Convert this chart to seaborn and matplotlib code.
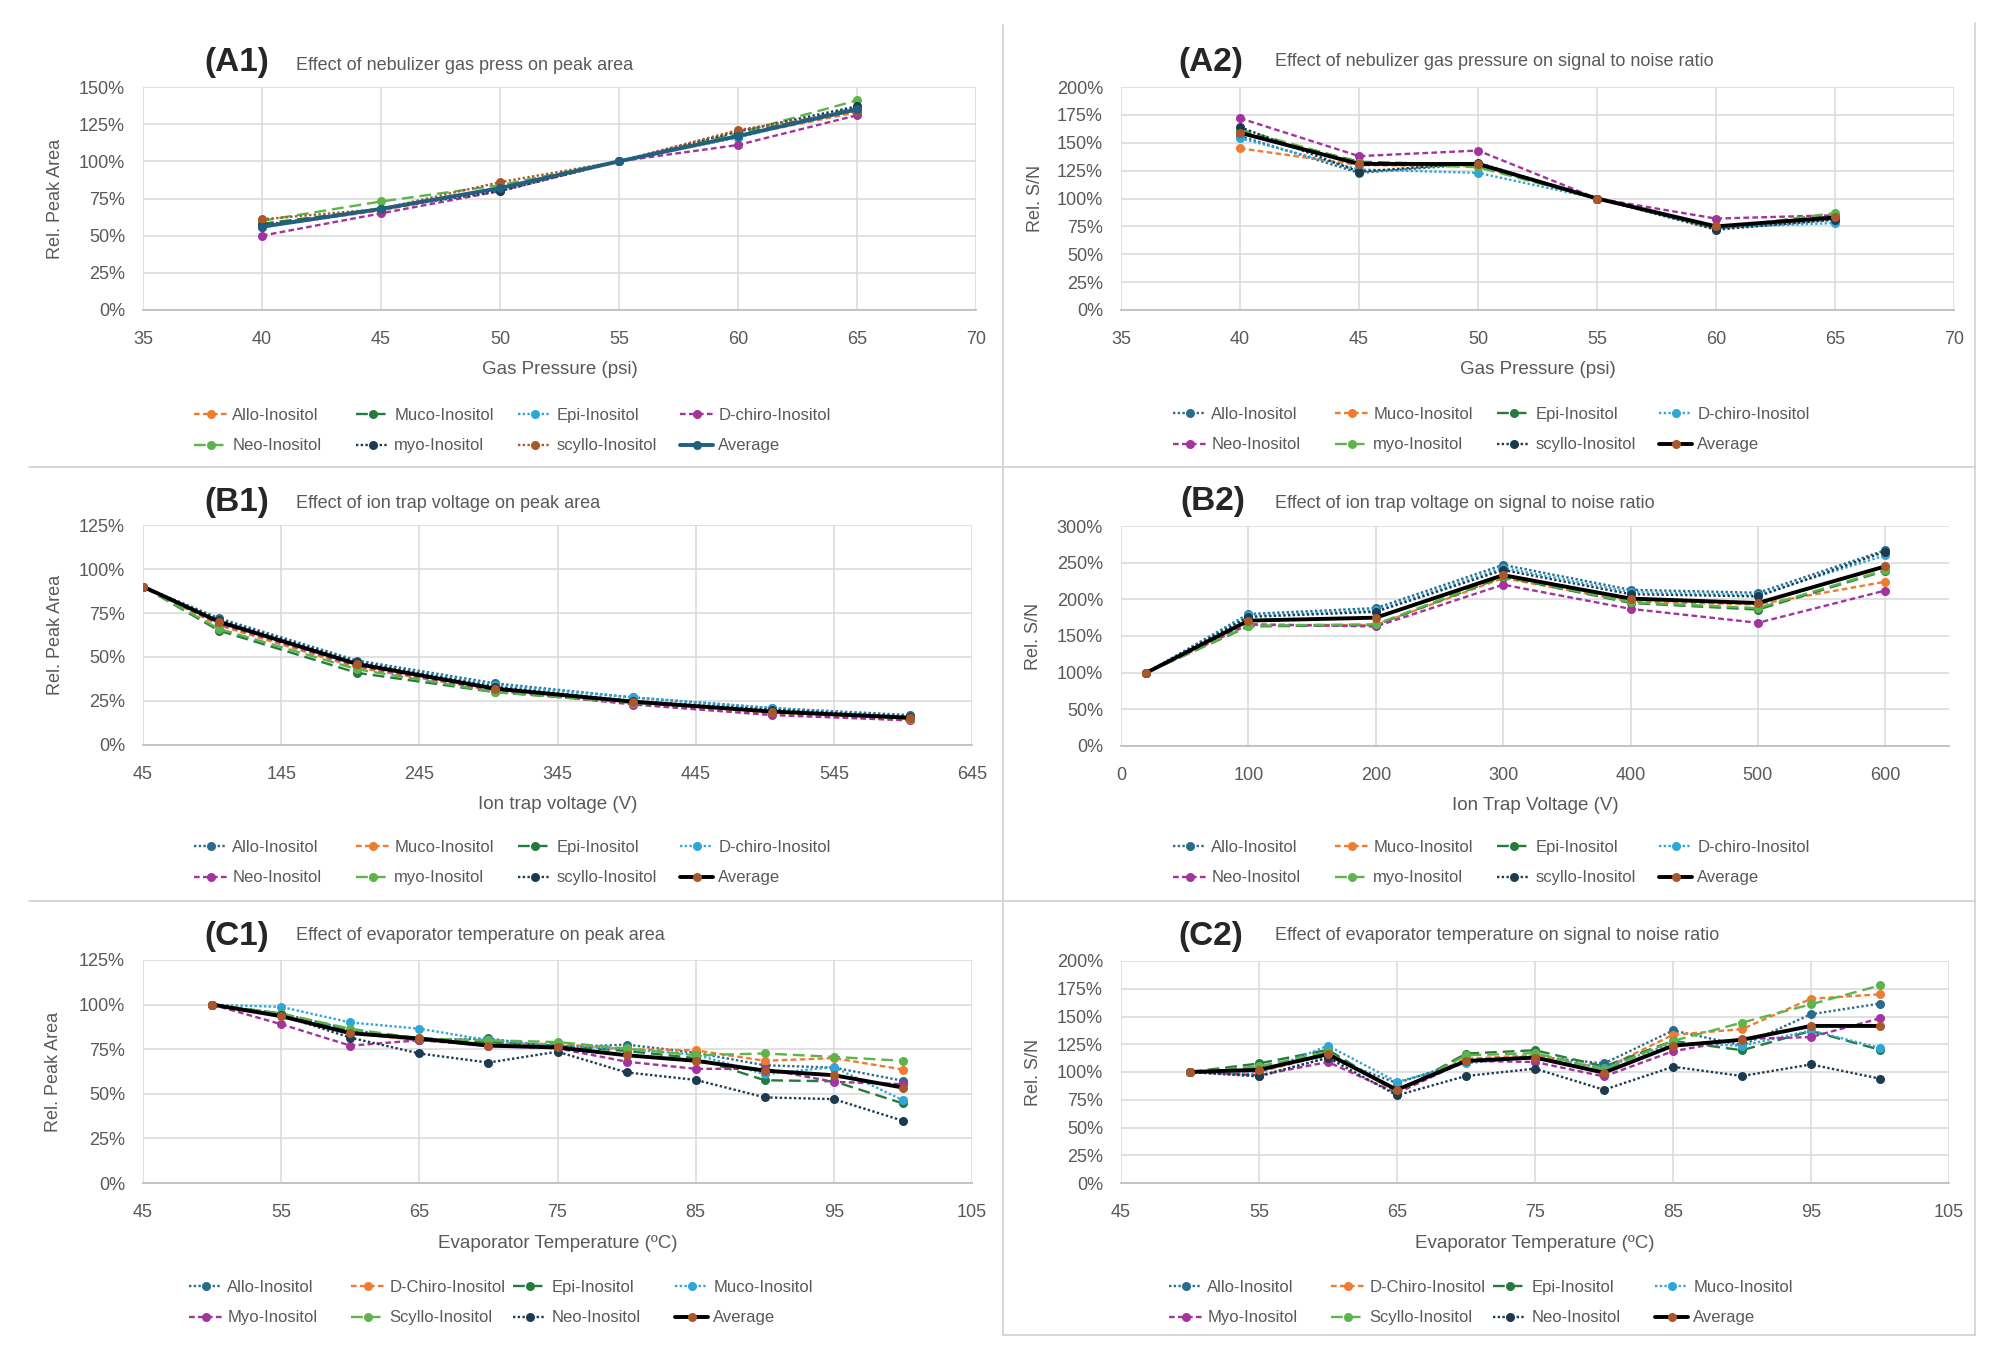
import matplotlib
matplotlib.use('Agg')
import matplotlib.pyplot as plt
from matplotlib.legend import Legend
from matplotlib.lines import Line2D
from matplotlib.ticker import FuncFormatter, MultipleLocator
import seaborn as sns

sns.set_style('white')
plt.rcParams['font.family'] = ['Liberation Sans', 'DejaVu Sans']

W, H = 2000, 1363

# --- data (relative values in %) ---
# (A1)/(A2) nebulizer gas pressure
gas_psi = [40, 45, 50, 55, 60, 65]
a_names = ['Allo-Inositol', 'Muco-Inositol', 'Epi-Inositol', 'D-chiro-Inositol',
           'Neo-Inositol', 'myo-Inositol', 'scyllo-Inositol', 'Average']
a1_allo = [56, 67, 82, 100, 117, 133]
a1_muco = [58, 68, 82, 100, 118, 136]
a1_epi = [56, 68, 82, 100, 116, 136]
a1_dchiro = [50, 65, 80, 100, 111, 131]
a1_neo = [60, 73, 84, 100, 119, 141]
a1_myo = [57, 68, 80, 100, 120, 137]
a1_scyllo = [61, 68, 86, 100, 121, 134]
a1_avg = [56, 68, 82, 100, 117, 135]

a2_allo = [156, 123, 131, 100, 73, 81]
a2_muco = [145, 130, 129, 100, 74, 82]
a2_epi = [160, 133, 130, 100, 74, 84]
a2_dchiro = [154, 126, 123, 100, 74, 78]
a2_neo = [172, 138, 143, 100, 82, 85]
a2_myo = [162, 132, 128, 100, 73, 87]
a2_scyllo = [164, 124, 132, 100, 72, 81]
a2_avg = [159, 131, 131, 100, 75, 83]

# (B1) ion trap voltage, peak area
b1_volt = [45, 100, 200, 300, 400, 500, 600]
b1_allo = [90, 72, 48, 35, 27, 21, 17]
b1_muco = [90, 68, 44, 31, 24, 18, 14]
b1_epi = [90, 65, 41, 30, 24, 19, 15]
b1_dchiro = [90, 71, 47, 34, 27, 21, 16]
b1_neo = [90, 69, 45, 31, 23, 17, 14]
b1_myo = [90, 66, 43, 30, 24, 19, 15]
b1_scyllo = [90, 71, 47, 33, 25, 20, 16]
b1_avg = [90, 70, 46, 32, 24.6, 19, 15.5]

# (B2) ion trap voltage, S/N
b2_volt = [20, 100, 200, 300, 400, 500, 600]
b2_allo = [100, 180, 188, 247, 213, 209, 267]
b2_muco = [100, 165, 165, 229, 197, 193, 224]
b2_epi = [100, 163, 165, 231, 195, 186, 239]
b2_dchiro = [100, 178, 185, 243, 210, 206, 260]
b2_neo = [100, 166, 163, 220, 187, 168, 212]
b2_myo = [100, 164, 166, 232, 196, 188, 240]
b2_scyllo = [100, 176, 183, 240, 207, 204, 265]
b2_avg = [100, 171, 175, 233, 201, 195, 245]

# (C1)/(C2) evaporator temperature
evap_temp = [50, 55, 60, 65, 70, 75, 80, 85, 90, 95, 100]
c_names = ['Allo-Inositol', 'D-Chiro-Inositol', 'Epi-Inositol', 'Muco-Inositol',
           'Myo-Inositol', 'Scyllo-Inositol', 'Neo-Inositol', 'Average']
c1_allo = [100, 95, 86, 80, 81, 76, 77.6, 73, 66, 64.7, 57.3]
c1_dchiro = [100, 94, 84, 80, 78, 78, 75, 74.4, 68.5, 70, 63.6]
c1_epi = [100, 95, 85, 80, 79, 77, 74, 70, 57.6, 57, 44.6]
c1_muco = [100, 98.7, 90, 86.5, 80, 77, 75, 72, 61, 65, 46.4]
c1_myo = [100, 89, 77, 80, 77, 75.5, 68, 64, 64, 56.7, 55.4]
c1_scyllo = [100, 95, 86.5, 81, 80, 79, 75.4, 71.6, 72.6, 70.7, 68.5]
c1_neo = [100, 94, 81.5, 72.6, 67.5, 73.6, 62, 57.8, 48, 47, 34.9]
c1_avg = [100, 93.5, 84, 81, 77, 76, 71.6, 68.5, 63, 60.4, 53.5]

c2_allo = [100, 96, 113, 90, 110, 114, 107.7, 137.4, 124, 152, 161.7]
c2_dchiro = [100, 100, 116, 83, 112, 115, 103, 133.5, 138.6, 166, 170]
c2_epi = [100, 107.7, 120, 82, 116.6, 119.6, 105, 128, 119.6, 137, 120]
c2_muco = [100, 99, 123.7, 91, 108, 113, 104, 126, 123.7, 137.4, 121.7]
c2_myo = [100, 97, 109, 81, 110, 109, 96, 118.7, 129.7, 131.5, 148.4]
c2_scyllo = [100, 105, 118, 82, 115, 117, 102, 128, 144.5, 161, 178]
c2_neo = [100, 96.4, 112.8, 79, 96.4, 103, 84, 104.7, 96.4, 106.8, 94]
c2_avg = [100, 102, 116, 84, 110, 113, 99.4, 123.7, 129, 141.5, 141.5]

# --- styles ---
STEEL = '#2A6C8E'
ORANGE = '#EE7D31'
DKGREEN = '#267A3E'
LTBLUE = '#2EA6D8'
PURPLE = '#A3339D'
LTGREEN = '#5DB44B'
NAVY = '#1C3A50'
BROWN = '#A9572B'
AVG_A1 = '#21607F'
GREY = '#595959'
GRID = '#D9D9D9'

SHORT = (0, (2.4, 1.4))
LONG = (0, (5, 2.5))
DOT = (0, (1, 1))

a1_styles = [(ORANGE, SHORT), (DKGREEN, LONG), (LTBLUE, DOT), (PURPLE, SHORT),
             (LTGREEN, LONG), (NAVY, DOT), (BROWN, DOT)]
ab_styles = [(STEEL, DOT), (ORANGE, SHORT), (DKGREEN, LONG), (LTBLUE, DOT),
             (PURPLE, SHORT), (LTGREEN, LONG), (NAVY, DOT)]
c_styles = [(STEEL, DOT), (ORANGE, SHORT), (DKGREEN, LONG), (LTBLUE, DOT),
            (PURPLE, SHORT), (LTGREEN, LONG), (NAVY, DOT)]

fig = plt.figure(figsize=(W / 100, H / 100), dpi=100)


def fx(x):
    return x / W


def fy(y):
    return 1 - y / H


def panel(box, x, names, values, styles, avg_line, avg_mark, xlim, xticks, ymax, ystep,
          xlabel, ylabel, tag, title, tag_pos, title_pos, ylab_x, leg_pos):
    l, t, r, b = box
    ax = fig.add_axes([fx(l), fy(b), (r - l) / W, (b - t) / H])
    for name, vals, (col, ls) in zip(names[:-1], values[:-1], styles):
        sns.lineplot(x=x, y=vals, ax=ax, color=col, linestyle=ls, linewidth=1.7,
                     marker='o', markersize=6.5, markeredgecolor=col,
                     markeredgewidth=0, label=name)
    sns.lineplot(x=x, y=values[-1], ax=ax, color=avg_line, linewidth=2.8,
                 marker='o', markersize=6.5, markerfacecolor=avg_mark,
                 markeredgecolor=avg_mark, markeredgewidth=0, label=names[-1])
    if ax.get_legend():
        ax.get_legend().remove()

    ax.set_xlim(*xlim)
    ax.set_xticks(xticks)
    ax.set_ylim(0, ymax)
    ax.yaxis.set_major_locator(MultipleLocator(ystep))
    ax.yaxis.set_major_formatter(FuncFormatter(lambda v, _: f'{v:.0f}%'))
    ax.grid(True, color=GRID, linewidth=1.1)
    ax.set_axisbelow(True)
    for s in ['top', 'right', 'left']:
        ax.spines[s].set_visible(False)
    ax.spines['bottom'].set_color('#BFBFBF')
    ax.spines['bottom'].set_linewidth(1.3)
    ax.tick_params(length=0, labelsize=13, labelcolor=GREY)
    ax.tick_params(axis='x', pad=15)
    ax.tick_params(axis='y', pad=13)

    ax.set_xlabel(xlabel, fontsize=13.5, color=GREY)
    ax.xaxis.set_label_coords(0.5, -60 / (b - t))
    ax.xaxis.label.set_va('center')
    ax.set_ylabel(ylabel, fontsize=13, color=GREY)
    ax.yaxis.set_label_coords((ylab_x - l) / (r - l), 0.5)
    ax.yaxis.label.set_va('center')

    fig.text(fx(tag_pos[0]), fy(tag_pos[1]), tag, fontsize=24, fontweight='bold',
             va='center', ha='left')
    fig.text(fx(title_pos[0]), fy(title_pos[1]), title, fontsize=13, color=GREY,
             va='center', ha='left')

    # Excel-like legend: 2 rows x 4 evenly spaced columns
    handles, labels = ax.get_legend_handles_labels()
    lx, ly = leg_pos
    for i in range(4):
        leg = Legend(ax, [handles[i], handles[i + 4]], [labels[i], labels[i + 4]],
                     loc='center left', bbox_to_anchor=(fx(lx + i * 162), fy(ly + 15.5)),
                     bbox_transform=fig.transFigure, frameon=False, fontsize=12,
                     handlelength=2.0, handletextpad=0.3, labelspacing=0.95,
                     borderpad=0, borderaxespad=0, labelcolor=GREY)
        ax.add_artist(leg)
    return ax


panel((143, 87, 976, 310), gas_psi, a_names,
      [a1_allo, a1_muco, a1_epi, a1_dchiro, a1_neo, a1_myo, a1_scyllo, a1_avg],
      a1_styles, AVG_A1, AVG_A1, (35, 70), range(35, 71, 5), 150, 25,
      'Gas Pressure (psi)', 'Rel. Peak Area', '(A1)',
      'Effect of nebulizer gas press on peak area', (204, 63), (296, 65), 55, (194, 415))

panel((1121, 87, 1954, 310), gas_psi, a_names,
      [a2_allo, a2_muco, a2_epi, a2_dchiro, a2_neo, a2_myo, a2_scyllo, a2_avg],
      ab_styles, 'black', BROWN, (35, 70), range(35, 71, 5), 200, 25,
      'Gas Pressure (psi)', 'Rel. S/N', '(A2)',
      'Effect of nebulizer gas pressure on signal to noise ratio', (1178, 63), (1275, 62),
      1035, (1173, 414))

panel((143, 525, 972, 745), b1_volt, a_names,
      [b1_allo, b1_muco, b1_epi, b1_dchiro, b1_neo, b1_myo, b1_scyllo, b1_avg],
      ab_styles, 'black', BROWN, (45, 645), range(45, 646, 100), 125, 25,
      'Ion trap voltage (V)', 'Rel. Peak Area', '(B1)',
      'Effect of ion trap voltage on peak area', (204, 503), (296, 503), 56, (194, 847))

panel((1121, 526, 1949, 746), b2_volt, a_names,
      [b2_allo, b2_muco, b2_epi, b2_dchiro, b2_neo, b2_myo, b2_scyllo, b2_avg],
      ab_styles, 'black', BROWN, (0, 650), range(0, 601, 100), 300, 50,
      'Ion Trap Voltage (V)', 'Rel. S/N', '(B2)',
      'Effect of ion trap voltage on signal to noise ratio', (1180, 501), (1275, 503),
      1033, (1173, 847))

panel((143, 960, 972, 1183), evap_temp, c_names,
      [c1_allo, c1_dchiro, c1_epi, c1_muco, c1_myo, c1_scyllo, c1_neo, c1_avg],
      c_styles, 'black', BROWN, (45, 105), range(45, 106, 10), 125, 25,
      'Evaporator Temperature (ºC)', 'Rel. Peak Area', '(C1)',
      'Effect of evaporator temperature on peak area', (204, 937), (296, 936), 54, (189, 1287))

panel((1121, 961, 1949, 1183), evap_temp, c_names,
      [c2_allo, c2_dchiro, c2_epi, c2_muco, c2_myo, c2_scyllo, c2_neo, c2_avg],
      c_styles, 'black', BROWN, (45, 105), range(45, 106, 10), 200, 25,
      'Evaporator Temperature (ºC)', 'Rel. S/N', '(C2)',
      'Effect of evaporator temperature on signal to noise ratio', (1178, 937), (1275, 936),
      1033, (1169, 1287))

# thin panel separators
SEP = '#D0D0D0'
for (x0, y0, x1, y1) in [(1003, 25, 1003, 1335), (1975, 23, 1975, 1335),
                         (29, 467, 1975, 467), (29, 901, 1975, 901),
                         (1003, 1335, 1975, 1335)]:
    fig.add_artist(Line2D([fx(x0), fx(x1)], [fy(y0), fy(y1)],
                          transform=fig.transFigure, color=SEP, linewidth=1.2))

fig.savefig('out.png', dpi=100, facecolor='white')
